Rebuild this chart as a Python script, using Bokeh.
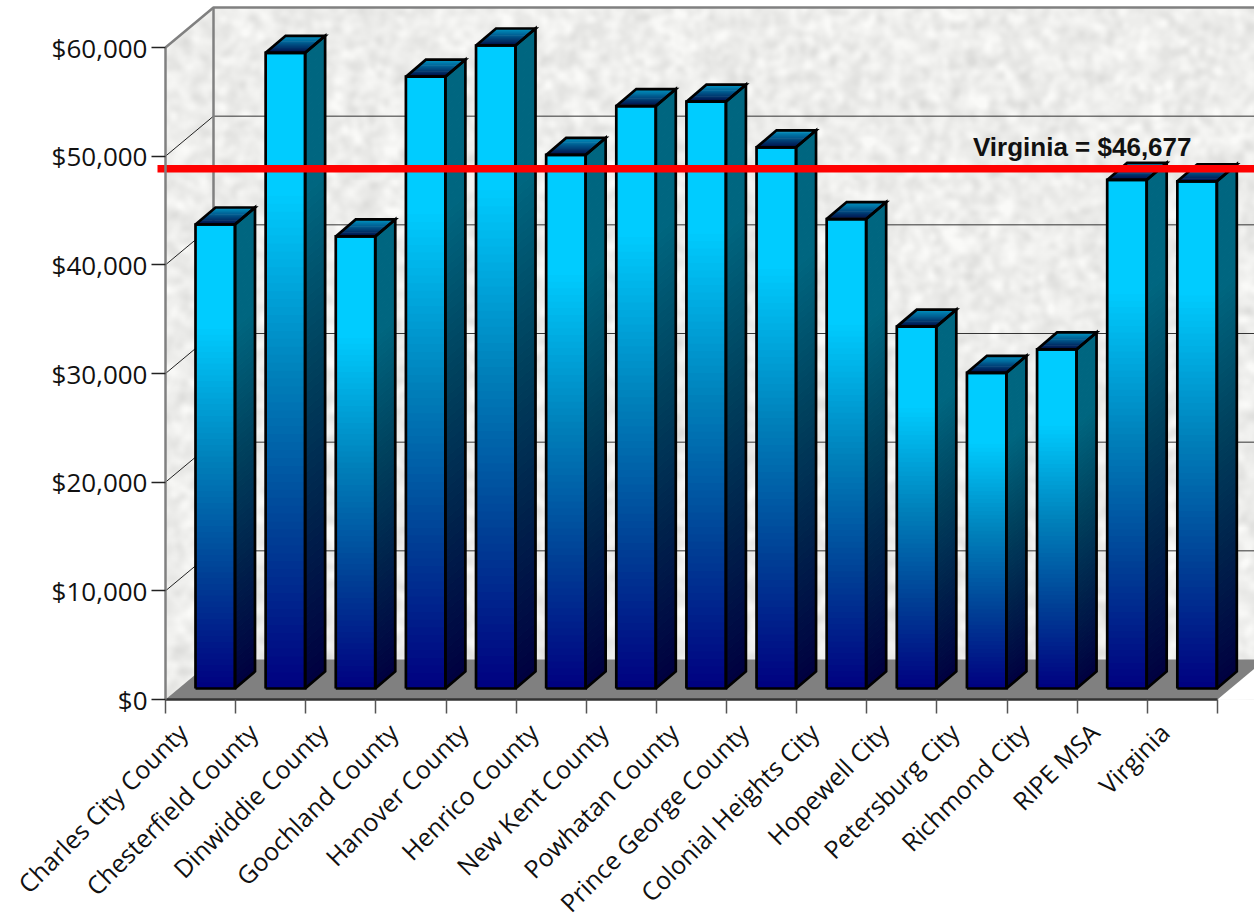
import math
import numpy as np
from bokeh.plotting import figure
from bokeh.models import FixedTicker, NumeralTickFormatter, LinearAxis
from bokeh.core.properties import value
from bokeh.embed import file_html
from bokeh.resources import INLINE

categories = ["Charles City County", "Chesterfield County", "Dinwiddie County", "Goochland County",
              "Hanover County", "Henrico County", "New Kent County", "Powhatan County",
              "Prince George County", "Colonial Heights City", "Hopewell City", "Petersburg City",
              "Richmond City", "RIPE MSA", "Virginia"]
income = [42700, 58500, 41600, 56300, 59170, 49100, 53600, 54000, 49800, 43200, 33300, 29050, 31200, 46800, 46677]
y_ticks = [0, 10000, 20000, 30000, 40000, 50000, 60000]
reference_level = 47840
reference_label = "Virginia = $46,677"

W, H = 1254, 923
AX, FB = 165, 699     # axis x, axis y (pixels)
PX = 1 / 70.13
PY = 60000 / 652.0
x0 = -0.5
x_start = x0 - AX * PX
x_end = x0 + (W - AX) * PX
y_start = -(H - FB) * PY
y_end = FB * PY

p = figure(width=W, height=H, frame_width=W, frame_height=H, output_backend="svg", toolbar_location=None,
           x_range=(x_start, x_end), y_range=(y_start, y_end),
           min_border_left=0, min_border_right=0, min_border_top=0, min_border_bottom=0,
           outline_line_color=None, background_fill_color="white", border_fill_color="white",
           x_axis_type=None, y_axis_type=None)
p.xgrid.visible = False
p.ygrid.visible = False

# wall texture (mottled paper, deterministic)
dep_x, dep_y = 48 * PX, 40 * PY
wall_top = 60000 + dep_y
th, tw = int(wall_top / PY) // 2 + 1, (W - AX) // 2 + 1
yy, xx = np.mgrid[0:th, 0:tw]
n = np.sin(xx * 12.9898 + yy * 78.233) * 43758.5453
n = n - np.floor(n)
def blur(a, k):
    f = np.fft.fft2(a)
    fy = np.fft.fftfreq(a.shape[0])[:, None]
    fx = np.fft.fftfreq(a.shape[1])[None, :]
    return np.real(np.fft.ifft2(f * np.exp(-2 * (math.pi * k) ** 2 * (fx ** 2 + fy ** 2))))
m = blur(n, 1.7)
m = (m - m.mean()) / m.std()
g = np.clip(238 + m * 5, 220, 250).astype(np.uint32)
b = g - 2
tex = ((255 << 24) | (b << 16) | (g << 8) | g).astype(np.uint32)
p.image_rgba(image=[tex], x=x0, y=0, dw=x_end - x0, dh=wall_top)

floor_right = x0 + len(categories)
slope = dep_y / dep_x
edge_y = (x_end - floor_right) * slope

# white corners outside the walls
p.patch([x0, x0 + dep_x, x0], [60000, wall_top, wall_top + 2 * PY], fill_color="white", line_color="white", line_width=1)
p.patch([floor_right, x_end + 1, x_end + 1], [0, 0, edge_y + slope], fill_color="white", line_color=None)

grid = y_ticks[1:-1]
p.segment(x0 + dep_x, [v + dep_y for v in grid], x_end, [v + dep_y for v in grid], line_color="#333333", line_width=1)
p.segment(x0, grid, x0 + dep_x, [v + dep_y for v in grid], line_color="#222222", line_width=1)

# floor
p.patch([x0, x0 + dep_x, x_end, x_end, floor_right], [0, dep_y, dep_y, edge_y, 0],
        fill_color="#808080", line_color=None)

# wall frame
p.line([x0, x0 + dep_x, x_end], [60000, wall_top, wall_top], line_color="#808080", line_width=2.5)
p.line([x0 + dep_x, x0 + dep_x], [dep_y, wall_top], line_color="#808080", line_width=2.5)

# bars
bar_left, bar_w = 30 * PX, 39.5 * PX
base = 11 * PY
d_x, d_y = 20 * PX, 17 * PY
N = 80
overlap = 1.0 * PY

STOPS_T = [0.0, 0.25, 0.5, 0.78, 1.0]
STOPS_G = [0, 65, 130, 204, 204]
STOPS_B = [128, 150, 187, 255, 255]

def hexc(c):
    return "#%02x%02x%02x" % tuple(int(round(x)) for x in c)
def front(t):
    return (0, float(np.interp(t, STOPS_T, STOPS_G)), float(np.interp(t, STOPS_T, STOPS_B)))
def side(t):
    c = front(t)
    return (0, c[1] * 0.5, c[2] * 0.5)

TOP_F, TOP_B = (0, 10, 70), (0, 150, 195)

ql, qr, qb, qt, qc = [], [], [], [], []
sx, sy, sc = [], [], []
tx, ty, tc = [], [], []
ox, oy = [], []
for i, v in enumerate(income):
    l = x0 + i + bar_left
    r = l + bar_w
    top = base + v
    for k in range(N):
        y1 = base + v * k / N
        y2 = min(top, base + v * (k + 1) / N + overlap)
        t = (k + 0.5) / N
        ql.append(l); qr.append(r); qb.append(y1); qt.append(y2); qc.append(hexc(front(t)))
        sx.append([r, r + d_x, r + d_x, r])
        sy.append([y1, y1 + d_y, y2 + d_y, y2])
        sc.append(hexc(side(t)))
    M = 14
    for k in range(M):
        a, e = k / M, min(1.0, (k + 1.5) / M)
        tt = (k + 0.5) / M
        tx.append([l + d_x * a, r + d_x * a, r + d_x * e, l + d_x * e])
        ty.append([top + d_y * a, top + d_y * a, top + d_y * e, top + d_y * e])
        tc.append(hexc(tuple(TOP_F[j] + (TOP_B[j] - TOP_F[j]) * tt for j in range(3))))
    ox += [[l, r, r, l, l], [r, r + d_x, r + d_x, r, r], [l, l + d_x, r + d_x, r, l]]
    oy += [[base, base, top, top, base], [base, base + d_y, top + d_y, top, base], [top, top + d_y, top + d_y, top, top]]

p.quad(left=ql, right=qr, bottom=qb, top=qt, fill_color=qc, line_color=None)
p.patches(sx, sy, fill_color=sc, line_color=None)
p.patches(tx, ty, fill_color=tc, line_color=None)
p.multi_line(ox, oy, line_color="black", line_width=2.7, line_join="miter")

# reference line + label
p.line([x0 - 8 * PX, x_end], [base + reference_level] * 2, line_color="#ff0000", line_width=7.5)
p.text([x0 + (1191 - AX) * PX], [base + reference_level + 22 * PY], text=[reference_label], text_align="right",
       text_baseline="alphabetic", text_font=value("Liberation Sans"), text_font_style="bold",
       text_font_size="26px", text_color="#111111")

# axes
yax = LinearAxis(ticker=FixedTicker(ticks=y_ticks), formatter=NumeralTickFormatter(format="$0,0"),
                 bounds=(0, 60000), fixed_location=x0)
yax.axis_line_color = "#808080"
yax.axis_line_width = 2.5
yax.major_tick_line_color = "#222222"
yax.major_tick_line_width = 1.5
yax.major_tick_in = 0
yax.major_tick_out = 14
yax.minor_tick_line_color = None
yax.major_label_standoff = 4
yax.major_label_text_font = "Open Sans"
yax.major_label_text_font_size = "26px"
yax.major_label_text_color = "#111111"
p.add_layout(yax, "left")

label_shift = 18 * PX
centres = [i - label_shift for i in range(len(categories))]
bounds_ticks = [i - 0.5 for i in range(len(categories) + 1)]
xax = LinearAxis(ticker=FixedTicker(ticks=centres, minor_ticks=bounds_ticks),
                 major_label_overrides={c: n for c, n in zip(centres, categories)},
                 bounds=(-0.5, len(categories) - 0.5), fixed_location=0)
xax.axis_line_color = "#333333"
xax.axis_line_width = 2.5
xax.major_tick_line_color = None
xax.minor_tick_line_color = "#555555"
xax.minor_tick_line_width = 1.5
xax.minor_tick_in = 0
xax.minor_tick_out = 14
xax.major_tick_in = 0
xax.major_tick_out = 14
xax.major_label_standoff = 14
xax.major_label_orientation = math.pi / 4
xax.major_label_text_font = "Open Sans"
xax.major_label_text_font_size = "25px"
xax.major_label_text_color = "#111111"
p.add_layout(xax, "below")

open("out.html", "w").write(file_html(p, INLINE))
